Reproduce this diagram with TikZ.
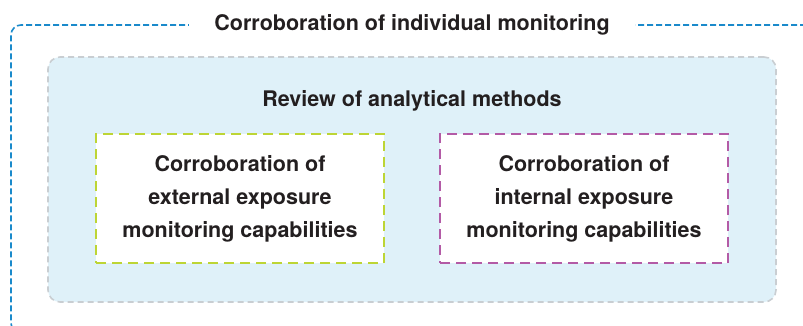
\documentclass[tikz,border=0pt]{standalone}
\usepackage{fontspec}
\setmainfont{TeX Gyre Heros}
\usetikzlibrary{backgrounds,calc,positioning}
\definecolor{frameblue}{HTML}{1A8ACB}
\definecolor{paleblue}{HTML}{DFF1F9}
\definecolor{dashgray}{HTML}{C9CED2}
\definecolor{limegreen}{HTML}{BDD535}
\definecolor{plum}{HTML}{B35BA6}
\definecolor{inktext}{HTML}{231F20}
\tikzset{
    review diagram/.style = {x=1pt, y=-1pt, font=\bfseries\fontsize{21.5}{33}\selectfont,
                             text=inktext},
    outer frame/.style    = {draw=frameblue, line width=1.6pt,
                             dash pattern=on 6pt off 3pt, rounded corners=10pt},
    title/.style          = {fill=white, inner xsep=25pt, inner ysep=4pt},
    methods panel/.style  = {draw=dashgray, line width=1.6pt, fill=paleblue,
                             dash pattern=on 6pt off 4pt, rounded corners=12pt,
                             minimum width=728pt, minimum height=245pt},
    capability/.style     = {draw, fill=white, line width=2.8pt,
                             dash pattern=on 10pt off 6pt, align=center,
                             minimum width=288pt, minimum height=129pt}
}

\begin{document}
\begin{tikzpicture}[review diagram]
\useasboundingbox (0,0) rectangle (803,325);
\clip (0,0) rectangle (803,325);

% Outer frame runs off the right and bottom edges
\draw[outer frame] (815,25) -- (11,25) -- (11,333) -- (815,333);
\node[title] (individual) at (412,25) {Corroboration of individual monitoring};

% Shared panel with its heading
\node[methods panel] (methods) at (412,179.5) {};
\node (review) at (412,101) {Review of analytical methods};

% The two capability boxes
\node[capability, draw=limegreen] (external) at (240,198.5)
    {Corroboration of\\external exposure\\monitoring capabilities};
\node[capability, draw=plum] (internal) at (584,198.5)
    {Corroboration of\\internal exposure\\monitoring capabilities};

\end{tikzpicture}
\end{document}
